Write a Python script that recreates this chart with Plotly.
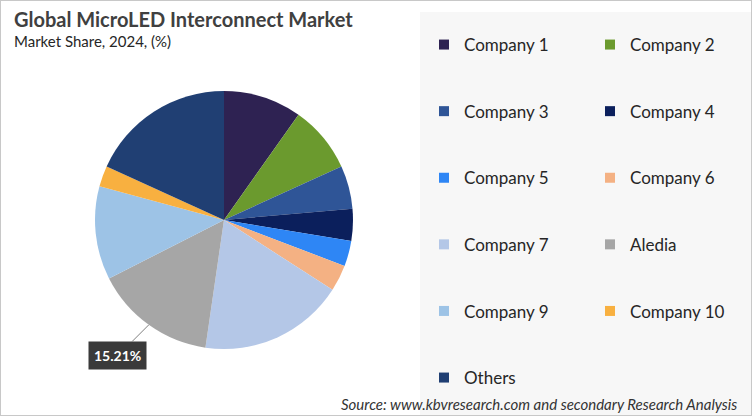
import math
import plotly.graph_objects as go

labels = ["Company 1", "Company 2", "Company 3", "Company 4", "Company 5", "Company 6",
          "Company 7", "Aledia", "Company 9", "Company 10", "Others"]
values = [9.8, 8.4, 5.4, 4.0, 3.2, 3.3, 18.2, 15.21, 11.7, 2.6, 18.19]
colors = ["#2E2252", "#6B9A2E", "#2F5597", "#0B1F5C", "#2E86F5", "#F4B183",
          "#B4C7E7", "#A6A6A6", "#9DC3E6", "#F8B040", "#203F73"]
highlight = "Aledia"

W, H = 752, 416
cx, cy, R = 224, 220, 129  # pie centre / radius in px (from top-left)

fig = go.Figure()
fig.add_trace(go.Pie(
    labels=labels, values=values, sort=False, direction="clockwise", rotation=0,
    marker=dict(colors=colors, line=dict(width=0)),
    textinfo="none", showlegend=False, hoverinfo="label+percent",
    domain=dict(x=[(cx - R) / W, (cx + R) / W], y=[(H - cy - R) / H, (H - cy + R) / H]),
))

# legend entries (two columns)
for i, (lab, col) in enumerate(zip(labels, colors)):
    fig.add_trace(go.Scatter(
        x=[None], y=[None], mode="markers", name=lab,
        marker=dict(symbol="square", size=10, color=col),
        legend="legend" if i % 2 == 0 else "legend2",
        legendgroup=lab, showlegend=True, hoverinfo="skip",
    ))

# label for highlighted slice
idx = labels.index(highlight)
total = sum(values)
mid = (sum(values[:idx]) + values[idx] / 2) / total * 2 * math.pi
ex = cx + R * math.sin(mid)
ey = cy - R * math.cos(mid)
pct = values[idx] / total * 100

annotations = [
    dict(text="<b>Global MicroLED Interconnect Market</b>", x=12 / W, y=1 - 19 / H,
         xref="paper", yref="paper", xanchor="left", yanchor="middle", showarrow=False,
         font=dict(family="Lato", size=20, color="#404040")),
    dict(text="Market Share, 2024, (%)", x=12 / W, y=1 - 41 / H,
         xref="paper", yref="paper", xanchor="left", yanchor="middle", showarrow=False,
         font=dict(family="Lato", size=15, color="#262626")),
    dict(text="<i>Source: www.kbvresearch.com and secondary Research Analysis</i>",
         x=739 / W, y=1 - 404 / H, xref="paper", yref="paper", xanchor="right",
         yanchor="middle", showarrow=False,
         font=dict(family="Lato", size=15, color="#333333")),
    dict(text="<b>%.2f%%</b>" % pct, x=ex / W, y=1 - ey / H, xref="paper", yref="paper",
         showarrow=True, arrowhead=0, arrowwidth=1, arrowcolor="#7F7F7F",
         ax=-31, ay=31, bgcolor="#3A3A3A", borderpad=5,
         font=dict(family="Lato", size=14, color="#FFFFFF")),
]

shapes = [
    dict(type="rect", xref="paper", yref="paper", x0=420 / W, x1=1, y0=0, y1=1 - 12 / H,
         fillcolor="#F7F7F7", line=dict(width=0), layer="below"),
    dict(type="rect", xref="paper", yref="paper", x0=0, x1=1, y0=0, y1=1,
         fillcolor="rgba(0,0,0,0)", line=dict(color="#C8C8C8", width=2)),
]

legend_common = dict(
    orientation="v", xanchor="left", yanchor="top", bgcolor="rgba(0,0,0,0)",
    font=dict(family="Lato", size=17, color="#262626"), tracegroupgap=41.5,
    itemclick=False, itemdoubleclick=False,
)

fig.update_layout(
    width=W, height=H, margin=dict(l=0, r=0, t=0, b=0),
    paper_bgcolor="#FFFFFF", plot_bgcolor="rgba(0,0,0,0)",
    xaxis=dict(visible=False), yaxis=dict(visible=False),
    legend=dict(x=424 / W, y=1 - 27 / H, **legend_common),
    legend2=dict(x=590 / W, y=1 - 27 / H, **legend_common),
    annotations=annotations, shapes=shapes,
)

fig.write_html("out.html", config={"displayModeBar": False},
               post_script="document.body.style.margin='0';")
